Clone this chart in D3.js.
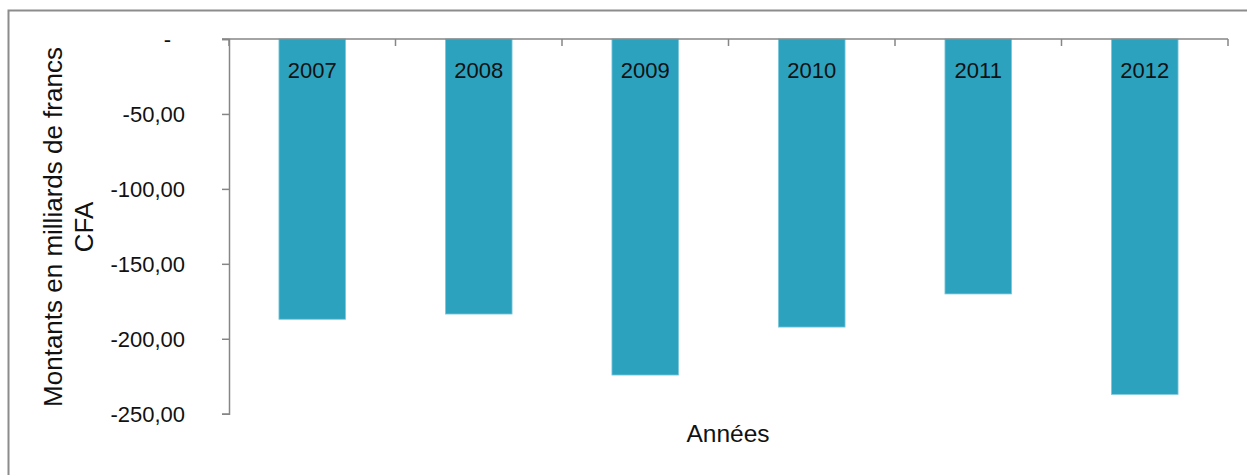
<!DOCTYPE html>
<html>
<head>
<meta charset="utf-8">
<script src="https://cdn.jsdelivr.net/npm/d3@7"></script>
<style>
  html, body { margin: 0; padding: 0; background: #fff; }
  svg { display: block; font-family: "Liberation Sans", Arial, sans-serif; }
</style>
</head>
<body>
<svg id="chart" width="1247" height="475"></svg>
<script>
// Solde annuel, en milliards de francs CFA
const years = ["2007", "2008", "2009", "2010", "2011", "2012"];
const values = [-187.0, -183.5, -224.2, -192.2, -170.1, -237.1];
const yTicks = [0, -50, -100, -150, -200, -250];
const yTickLabels = ["-", "-50,00", "-100,00", "-150,00", "-200,00", "-250,00"];
const yTitleLines = ["Montants en milliards de francs", "CFA"];
const xTitle = "Années";

const svg = d3.select("#chart");
const plotLeft = 229, plotRight = 1228, plotTop = 39, plotBottom = 413.7;

// cadre du graphique
svg.append("rect")
  .attr("x", 8.5).attr("y", 10.5)
  .attr("width", 1260).attr("height", 480)
  .attr("fill", "none").attr("stroke", "#8c8c8c").attr("stroke-width", 2);

const x = d3.scaleBand().domain(years).range([plotLeft, plotRight]).paddingInner(0.6).paddingOuter(0.3);
const y = d3.scaleLinear().domain([0, -250]).range([plotTop, plotBottom]);

// barres
svg.append("g").selectAll("rect").data(years).join("rect")
  .attr("x", d => x(d))
  .attr("y", y(0))
  .attr("width", x.bandwidth())
  .attr("height", (d, i) => y(values[i]) - y(0))
  .attr("fill", "#2ca2bf")
  .attr("stroke", "#7cc8dc")
  .attr("stroke-width", 0.8);

// axe vertical (format comptable : le zéro s'affiche « - » décalé)
const yAxis = d3.axisLeft(y).tickValues(yTicks).tickSize(7)
  .tickFormat((d, i) => yTickLabels[i]).tickPadding(37);
const gy = svg.append("g").attr("transform", `translate(${plotLeft},0)`).call(yAxis);
gy.select(".domain").attr("stroke", "#868686").attr("stroke-width", 1.5);
gy.selectAll(".tick line").attr("stroke", "#868686").attr("stroke-width", 1.5);
gy.selectAll(".tick text").attr("font-size", 22).attr("fill", "#111")
  .attr("font-family", "'Liberation Sans', Arial, sans-serif").attr("dy", "0.36em")
  .attr("dx", d => d === 0 ? -14 : 0);

// axe horizontal à zéro, graduations aux limites des catégories
const step = (plotRight - plotLeft) / years.length;
const gx = svg.append("g");
gx.append("line").attr("x1", plotLeft - 7).attr("x2", plotRight)
  .attr("y1", y(0)).attr("y2", y(0))
  .attr("stroke", "#868686").attr("stroke-width", 1.5);
gx.selectAll("line.tk").data(d3.range(years.length + 1)).join("line")
  .attr("class", "tk")
  .attr("x1", i => plotLeft + i * step).attr("x2", i => plotLeft + i * step)
  .attr("y1", y(0)).attr("y2", y(0) + 7)
  .attr("stroke", "#868686").attr("stroke-width", 1.5);

// étiquettes des années dans les barres
svg.append("g").selectAll("text").data(years).join("text")
  .attr("x", d => x(d) + x.bandwidth() / 2)
  .attr("y", 78)
  .attr("text-anchor", "middle")
  .attr("font-size", 22)
  .attr("fill", "#111")
  .text(d => d);

// titre de l'axe horizontal
svg.append("text")
  .attr("x", 728).attr("y", 442)
  .attr("text-anchor", "middle")
  .attr("font-size", 24.5)
  .attr("fill", "#111")
  .text(xTitle);

// titre de l'axe vertical
const yt = svg.append("text")
  .attr("transform", "translate(62,227) rotate(-90)")
  .attr("text-anchor", "middle")
  .attr("font-size", 26)
  .attr("fill", "#111");
yTitleLines.forEach((t, i) => {
  yt.append("tspan").attr("x", 0).attr("dy", i === 0 ? 0 : 31).text(t);
});
</script>
</body>
</html>
